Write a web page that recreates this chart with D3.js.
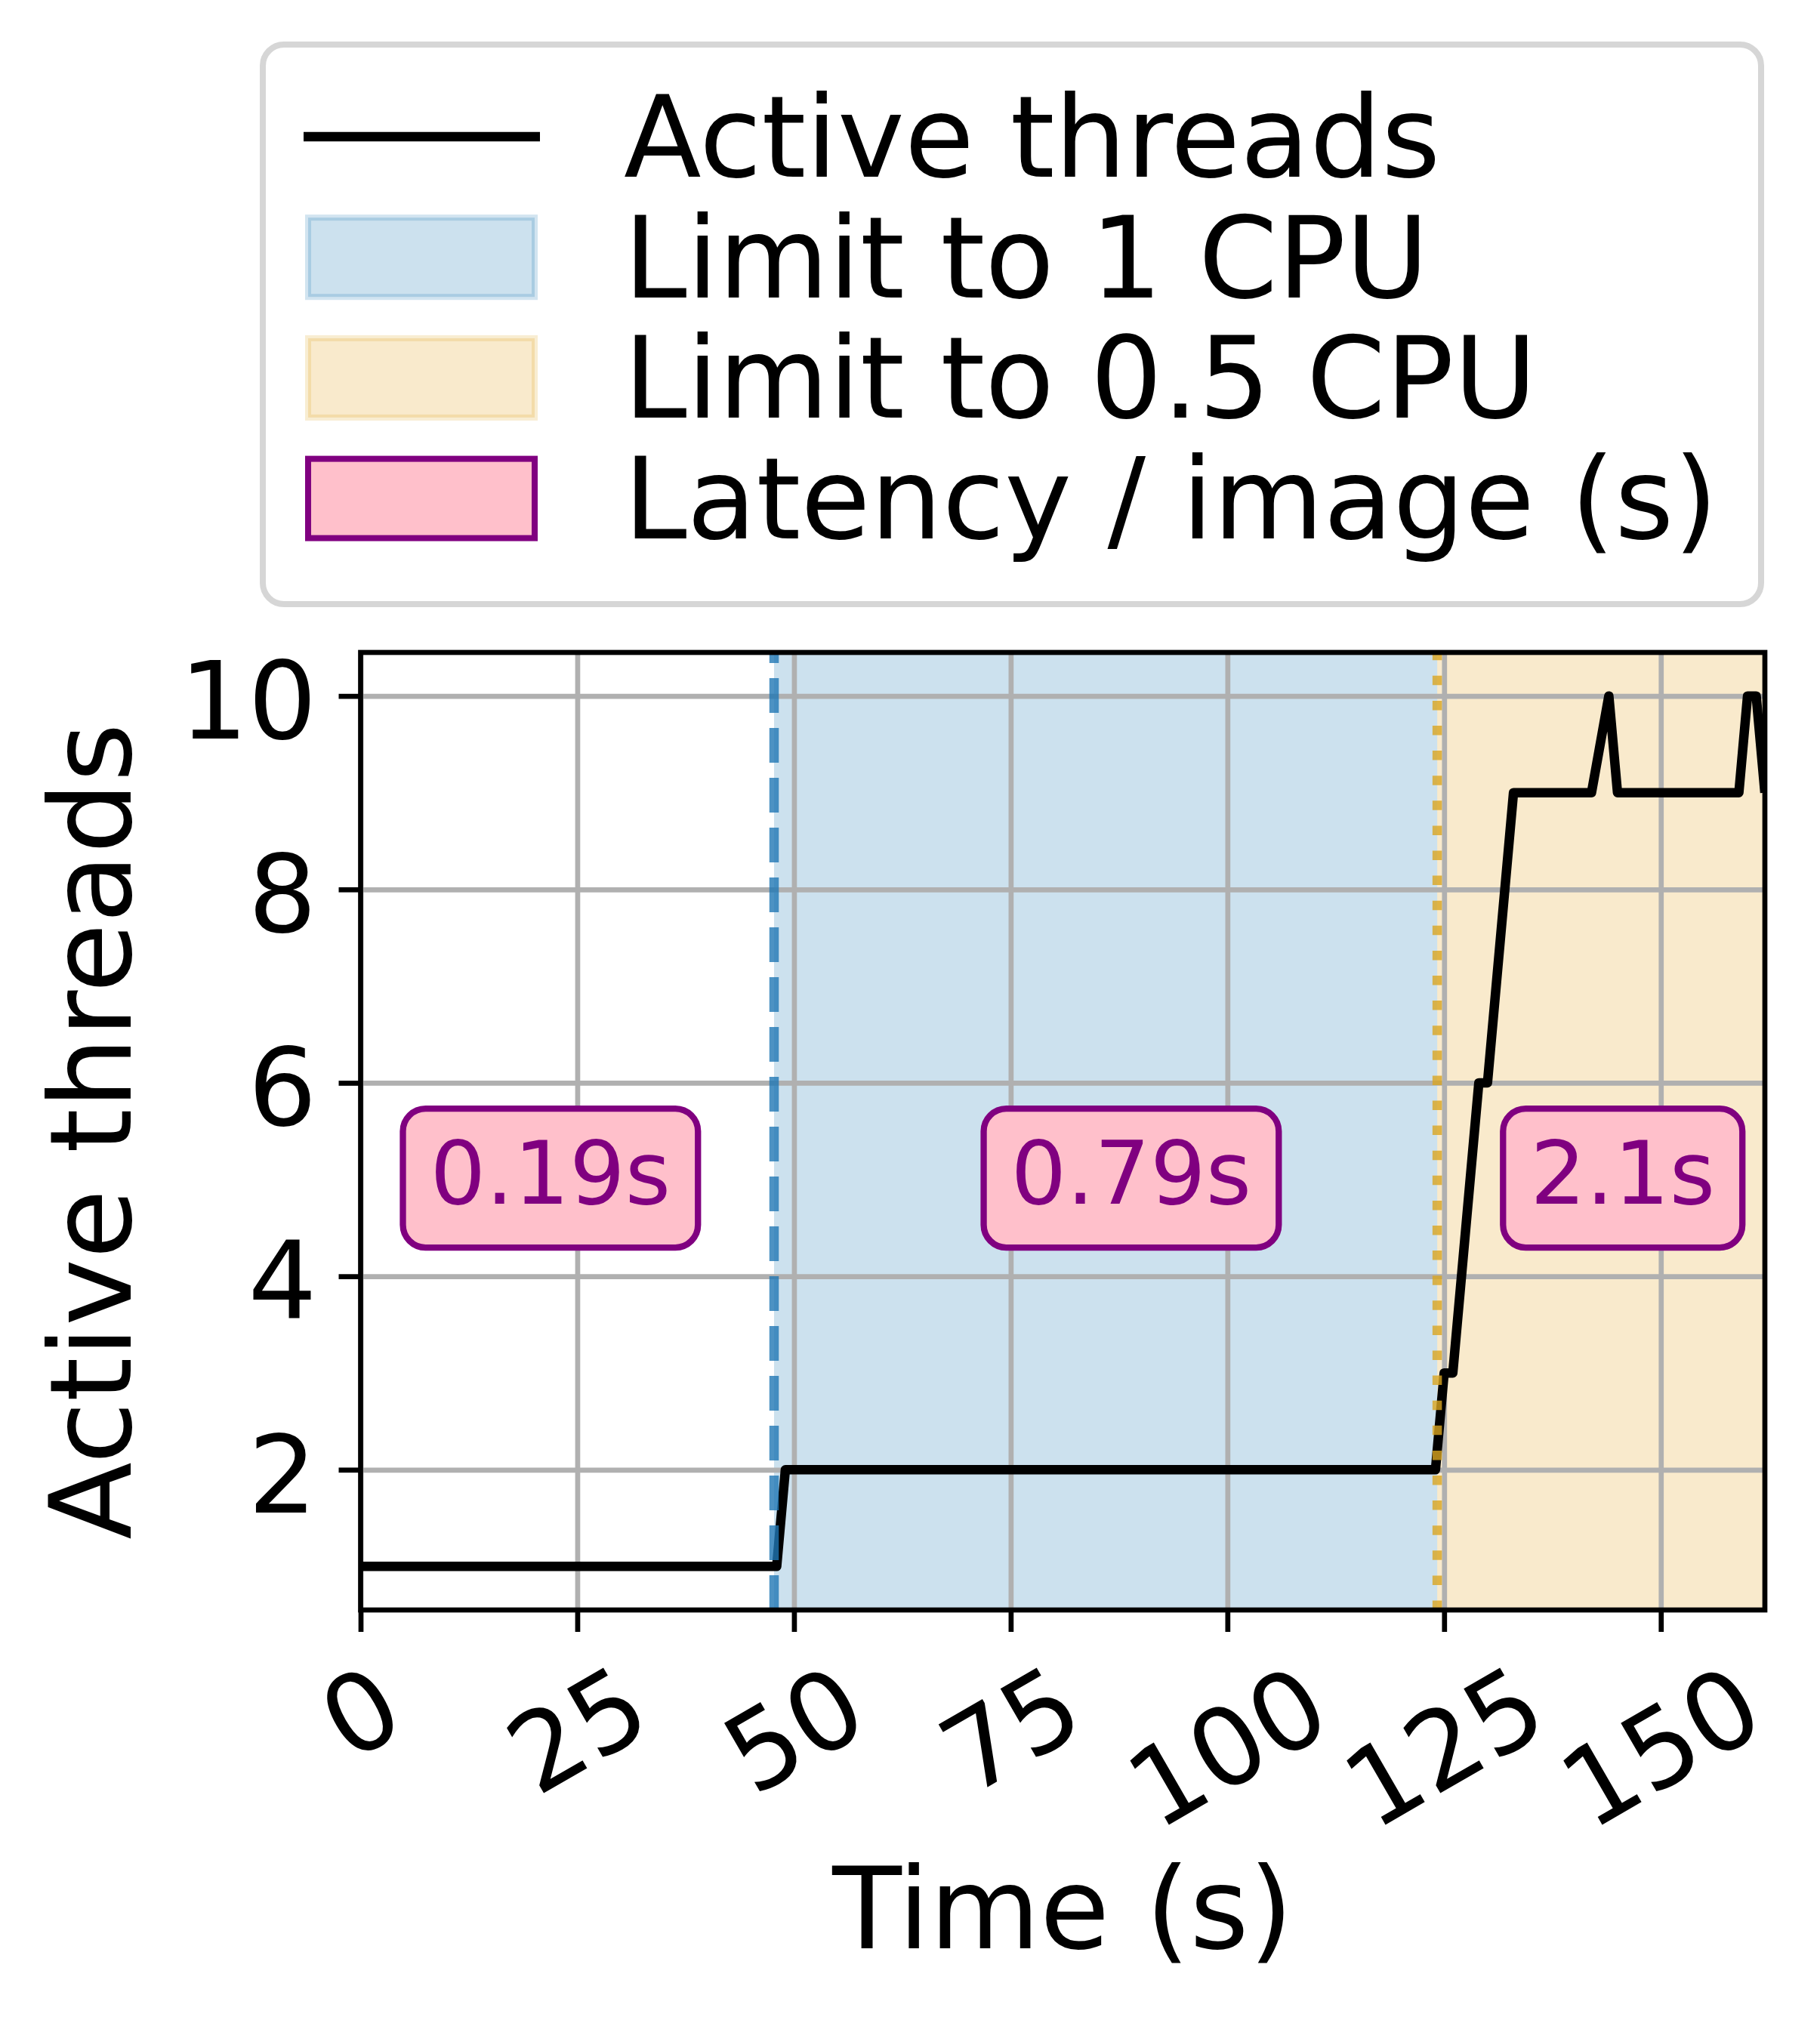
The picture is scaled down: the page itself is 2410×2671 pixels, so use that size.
<!DOCTYPE html>
<html>
<head>
<meta charset="utf-8">
<script src="https://cdn.jsdelivr.net/npm/d3@7"></script>
<style>
body { margin: 0; background: #fff; }
svg text { font-family: "DejaVu Sans", sans-serif; }
</style>
</head>
<body>
<div class="content"></div>
<script>
// active threads over time
var times   = [0, 48, 49, 124, 125, 126, 129, 130, 133, 142, 144, 145, 159, 160, 161, 162];
var threads = [1, 1, 2, 2, 3, 3, 6, 6, 9, 9, 10, 9, 9, 10, 10, 9];

// cpu limit phases
var phaseNames = ['Limit to 1 CPU', 'Limit to 0.5 CPU'];
var phaseStart = [47.7, 124.2];
var phaseEnd   = [124.2, 162];

// latency per image labels
var latencyText = ['0.19s', '0.79s', '2.1s'];
var latencyX    = [21.9, 88.9, 145.6];
var latencyY    = [5, 5, 5];

var xTicks = [0, 25, 50, 75, 100, 125, 150];
var yTicks = [2, 4, 6, 8, 10];

var legendLabels = ['Active threads', 'Limit to 1 CPU', 'Limit to 0.5 CPU', 'Latency / image (s)'];

var W = 2410, H = 2671;
var pLeft = 477.5, pRight = 2337, pTop = 864, pBottom = 2132;
var tickFont = 143, labelFont = 150, boxFont = 116;
var lw = 6.7;

var svg = d3.select('.content').append('svg')
    .attr('width', W)
    .attr('height', H);

var x = d3.scaleLinear().domain([0, 162]).range([pLeft, pRight]);
var y = d3.scaleLinear().domain([0.55, 10.45]).range([pBottom, pTop]);

svg.append('clipPath').attr('id', 'plotclip')
    .append('rect')
    .attr('x', pLeft).attr('y', pTop)
    .attr('width', pRight - pLeft).attr('height', pBottom - pTop);

var plot = svg.append('g').attr('clip-path', 'url(#plotclip)');

// phase spans
var spanFill = ['#cce1ee', '#f9eacc'];
plot.selectAll('rect.span')
    .data(phaseStart)
    .enter().append('rect')
    .attr('class', 'span')
    .attr('x', function(d) { return x(d); })
    .attr('y', pTop)
    .attr('width', function(d, i) { return x(phaseEnd[i]) - x(d) + 5; })
    .attr('height', pBottom - pTop)
    .attr('fill', function(d, i) { return spanFill[i]; });

// grid
var gx = plot.append('g')
    .attr('transform', 'translate(0,' + pBottom + ')')
    .call(d3.axisBottom(x).tickValues(xTicks).tickSize(-(pBottom - pTop)).tickFormat(''));
var gy = plot.append('g')
    .attr('transform', 'translate(' + pLeft + ',0)')
    .call(d3.axisLeft(y).tickValues(yTicks).tickSize(-(pRight - pLeft)).tickFormat(''));
[gx, gy].forEach(function(g) {
    g.select('.domain').remove();
    g.selectAll('line').attr('stroke', '#b0b0b0').attr('stroke-width', lw);
});

// thread line
var line = d3.line()
    .x(function(d, i) { return x(times[i]); })
    .y(function(d) { return y(d); });

plot.append('path')
    .datum(threads)
    .attr('d', line)
    .attr('fill', 'none')
    .attr('stroke', '#000')
    .attr('stroke-width', 12.5)
    .attr('stroke-linejoin', 'round');

// phase boundary markers
var markColor = ['#1f77b4', '#daa520'];
var markDash = ['46,20', '12.5,20.6'];
plot.selectAll('line.mark')
    .data(phaseStart)
    .enter().append('line')
    .attr('class', 'mark')
    .attr('x1', function(d) { return x(d); })
    .attr('x2', function(d) { return x(d); })
    .attr('y1', pBottom)
    .attr('y2', pTop)
    .attr('stroke', function(d, i) { return markColor[i]; })
    .attr('stroke-opacity', 0.8)
    .attr('stroke-width', 12.5)
    .attr('stroke-dasharray', function(d, i) { return markDash[i]; });

// spines
svg.append('rect')
    .attr('x', pLeft).attr('y', pTop)
    .attr('width', pRight - pLeft).attr('height', pBottom - pTop)
    .attr('fill', 'none')
    .attr('stroke', '#000')
    .attr('stroke-width', lw);

// axes
var xAxis = svg.append('g')
    .attr('transform', 'translate(0,' + pBottom + ')')
    .call(d3.axisBottom(x).tickValues(xTicks).tickSize(29).tickPadding(29));
xAxis.select('.domain').remove();
xAxis.selectAll('line').attr('stroke', '#000').attr('stroke-width', lw);
xAxis.selectAll('text')
    .attr('font-size', tickFont)
    .attr('fill', '#000')
    .attr('text-anchor', 'middle')
    .attr('y', 0)
    .attr('dy', '0.346em')
    .attr('transform', function() {
        var w = this.getComputedTextLength();
        var h = 1.0 * tickFont;
        var hh = w * 0.5 + h * 0.866;
        return 'translate(0,' + (52 + hh / 2) + ') rotate(-30)';
    });

var yAxis = svg.append('g')
    .attr('transform', 'translate(' + pLeft + ',0)')
    .call(d3.axisLeft(y).tickValues(yTicks).tickSize(29).tickPadding(29));
yAxis.select('.domain').remove();
yAxis.selectAll('line').attr('stroke', '#000').attr('stroke-width', lw);
yAxis.selectAll('text')
    .attr('font-size', tickFont)
    .attr('fill', '#000')
    .attr('dy', '0.39em');

// axis titles
svg.append('text')
    .attr('x', (pLeft + pRight) / 2)
    .attr('y', 2580)
    .attr('text-anchor', 'middle')
    .attr('font-size', labelFont)
    .text('Time (s)');

svg.append('text')
    .attr('transform', 'translate(173,' + (pTop + pBottom) / 2 + ') rotate(-90)')
    .attr('text-anchor', 'middle')
    .attr('font-size', labelFont)
    .text('Active threads');

// latency boxes
latencyText.forEach(function(t, i) {
    var g = svg.append('g')
        .attr('transform', 'translate(' + x(latencyX[i]) + ',' + y(latencyY[i]) + ')');
    var rect = g.append('rect');
    var txt = g.append('text')
        .attr('x', 0)
        .attr('y', 32)
        .attr('text-anchor', 'middle')
        .attr('font-size', boxFont)
        .attr('fill', '#800080')
        .text(t);
    var w = txt.node().getComputedTextLength() + 72;
    rect.attr('x', -w / 2)
        .attr('y', -94)
        .attr('width', w)
        .attr('height', 184)
        .attr('rx', 30)
        .attr('fill', '#ffc0cb')
        .attr('stroke', '#800080')
        .attr('stroke-width', 8.3);
});

// legend
var legend = svg.append('g');
legend.append('rect')
    .attr('x', 348).attr('y', 59)
    .attr('width', 1984).attr('height', 741)
    .attr('rx', 28)
    .attr('fill', '#fff')
    .attr('stroke', '#d6d6d6')
    .attr('stroke-width', 8);

var rowY = function(i) { return 181 + i * 159.7; };

legend.append('line')
    .attr('x1', 402).attr('x2', 715)
    .attr('y1', rowY(0)).attr('y2', rowY(0))
    .attr('stroke', '#000')
    .attr('stroke-width', 12.5);

var patchFill = ['#cce1ee', '#f9eacc', '#ffc0cb'];
var patchEdge = ['rgba(31,119,180,0.2)', 'rgba(218,165,32,0.2)', '#800080'];
patchFill.forEach(function(f, i) {
    legend.append('rect')
        .attr('x', 408).attr('y', rowY(i + 1) - 52.5)
        .attr('width', 300).attr('height', 105)
        .attr('fill', f)
        .attr('stroke', patchEdge[i])
        .attr('stroke-width', 8);
});

legendLabels.forEach(function(l, i) {
    legend.append('text')
        .attr('x', 826)
        .attr('y', rowY(i) + 53)
        .attr('font-size', labelFont)
        .text(l);
});
</script>
</body>
</html>
